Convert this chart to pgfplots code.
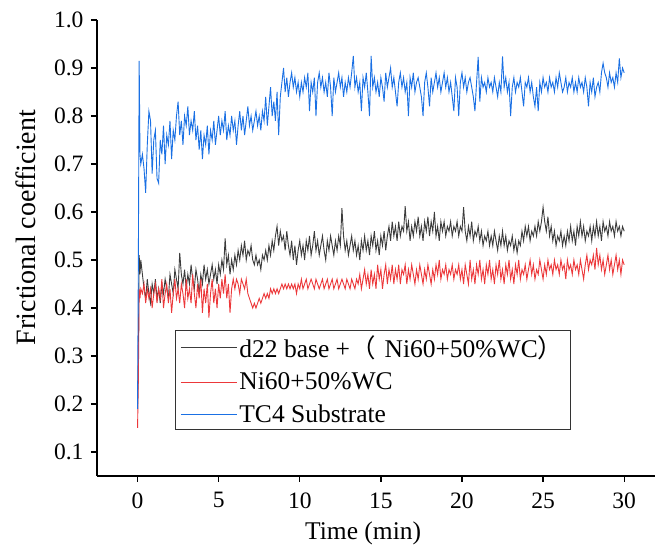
\documentclass[border=0pt]{standalone}
\usepackage{pgfplots}
\pgfplotsset{compat=1.18}
\usepackage{pgfplotstable}
\usepackage{fontspec}
\setmainfont{Liberation Serif}
\newfontfamily\cjk{Noto Sans CJK SC}
\definecolor{cblk}{RGB}{60,60,60}
\definecolor{cred}{RGB}{236,56,58}
\definecolor{cblu}{RGB}{26,112,228}

\pgfplotstableread{
t b r u
0.00 0.20 0.15 0.19
0.05 0.30 0.25 0.50
0.10 0.51 0.44 0.915
0.15 0.47 0.42 0.72
0.20 0.50 0.44 0.70
0.3 0.47 0.43 0.72
0.4 0.44 0.45 0.69
0.5 0.42 0.41 0.64
0.6 0.46 0.44 0.74
0.7 0.43 0.42 0.81
0.8 0.41 0.44 0.79
0.9 0.45 0.40 0.68
1.0 0.43 0.43 0.75
1.1 0.46 0.45 0.77
1.2 0.42 0.41 0.67
1.3 0.44 0.44 0.66
1.4 0.41 0.42 0.75
1.5 0.45 0.46 0.72
1.6 0.43 0.40 0.78
1.7 0.46 0.43 0.70
1.8 0.44 0.45 0.76
1.9 0.42 0.41 0.74
2.0 0.47 0.44 0.79
2.1 0.45 0.39 0.71
2.2 0.43 0.43 0.77
2.3 0.48 0.46 0.75
2.4 0.46 0.42 0.80
2.5 0.44 0.44 0.83
2.6 0.515 0.41 0.76
2.7 0.47 0.45 0.79
2.8 0.45 0.43 0.74
2.9 0.48 0.40 0.80
3.0 0.44 0.46 0.78
3.1 0.47 0.42 0.82
3.2 0.45 0.44 0.76
3.3 0.49 0.41 0.79
3.4 0.46 0.47 0.77
3.5 0.44 0.43 0.81
3.6 0.48 0.40 0.75
3.7 0.46 0.45 0.78
3.8 0.43 0.42 0.73
3.9 0.47 0.46 0.77
4.0 0.45 0.39 0.71
4.1 0.49 0.44 0.76
4.2 0.46 0.41 0.74
4.3 0.48 0.45 0.78
4.4 0.45 0.38 0.72
4.5 0.47 0.43 0.77
4.6 0.49 0.46 0.75
4.7 0.46 0.41 0.79
4.8 0.48 0.44 0.74
4.9 0.45 0.40 0.77
5.0 0.49 0.45 0.80
5.1 0.47 0.42 0.76
5.2 0.50 0.46 0.79
5.3 0.48 0.43 0.77
5.4 0.545 0.47 0.81
5.5 0.49 0.42 0.75
5.6 0.51 0.45 0.78
5.7 0.47 0.39 0.76
5.8 0.50 0.44 0.80
5.9 0.48 0.46 0.77
6.0 0.51 0.44 0.79
6.1 0.49 0.46 0.74
6.2 0.52 0.45 0.78
6.3 0.50 0.43 0.81
6.4 0.53 0.46 0.77
6.5 0.51 0.45 0.80
6.6 0.54 0.44 0.76
6.7 0.50 0.46 0.79
6.8 0.52 0.43 0.82
6.9 0.51 0.42 0.78
7.0 0.53 0.41 0.80
7.1 0.50 0.40 0.77
7.2 0.49 0.41 0.79
7.3 0.51 0.40 0.81
7.4 0.49 0.41 0.78
7.5 0.50 0.42 0.80
7.6 0.48 0.41 0.77
7.7 0.51 0.42 0.81
7.8 0.50 0.43 0.79
7.9 0.52 0.42 0.84
8.0 0.50 0.43 0.78
8.1 0.53 0.42 0.82
8.2 0.51 0.44 0.86
8.3 0.54 0.43 0.80
8.4 0.52 0.44 0.83
8.5 0.55 0.43 0.79
8.6 0.57 0.44 0.85
8.7 0.53 0.43 0.76
8.8 0.56 0.44 0.84
8.9 0.54 0.45 0.87
9.0 0.55 0.44 0.90
9.1 0.52 0.45 0.85
9.2 0.56 0.44 0.88
9.3 0.53 0.45 0.84
9.4 0.51 0.44 0.87
9.5 0.54 0.45 0.89
9.6 0.50 0.44 0.86
9.7 0.53 0.45 0.88
9.8 0.49 0.43 0.85
9.9 0.52 0.45 0.87
10.0 0.54 0.44 0.84
10.1 0.51 0.46 0.87
10.2 0.53 0.44 0.85
10.3 0.50 0.45 0.88
10.4 0.54 0.46 0.86
10.5 0.52 0.44 0.89
10.6 0.55 0.45 0.81
10.7 0.51 0.46 0.87
10.8 0.53 0.45 0.85
10.9 0.56 0.44 0.88
11.0 0.52 0.46 0.80
11.1 0.54 0.45 0.87
11.2 0.51 0.44 0.89
11.3 0.53 0.45 0.86
11.4 0.55 0.46 0.88
11.5 0.52 0.44 0.85
11.6 0.50 0.45 0.87
11.7 0.54 0.46 0.84
11.8 0.52 0.44 0.89
11.9 0.55 0.45 0.86
12.0 0.53 0.46 0.80
12.1 0.51 0.44 0.88
12.2 0.54 0.45 0.85
12.3 0.52 0.46 0.87
12.4 0.55 0.44 0.89
12.5 0.53 0.45 0.86
12.6 0.608 0.46 0.88
12.7 0.55 0.45 0.84
12.8 0.52 0.44 0.87
12.9 0.54 0.46 0.85
13.0 0.51 0.45 0.88
13.1 0.53 0.44 0.86
13.2 0.55 0.46 0.89
13.3 0.52 0.45 0.925
13.4 0.54 0.44 0.86
13.5 0.51 0.46 0.88
13.6 0.53 0.45 0.85
13.7 0.50 0.47 0.87
13.8 0.54 0.44 0.81
13.9 0.52 0.46 0.88
14.0 0.55 0.48 0.86
14.1 0.52 0.45 0.89
14.2 0.54 0.47 0.85
14.3 0.51 0.44 0.80
14.4 0.55 0.48 0.925
14.5 0.53 0.45 0.86
14.6 0.56 0.47 0.88
14.7 0.52 0.44 0.85
14.8 0.54 0.49 0.87
14.9 0.51 0.46 0.84
15.0 0.55 0.48 0.88
15.1 0.53 0.44 0.86
15.2 0.56 0.47 0.83
15.3 0.52 0.49 0.89
15.4 0.55 0.45 0.86
15.5 0.57 0.48 0.88
15.6 0.54 0.46 0.90
15.7 0.58 0.49 0.86
15.8 0.55 0.45 0.88
15.9 0.57 0.48 0.85
16.0 0.54 0.46 0.82
16.1 0.58 0.49 0.87
16.2 0.55 0.45 0.89
16.3 0.57 0.48 0.86
16.4 0.56 0.47 0.88
16.5 0.612 0.49 0.85
16.6 0.56 0.45 0.87
16.7 0.58 0.48 0.80
16.8 0.54 0.46 0.88
16.9 0.57 0.49 0.86
17.0 0.55 0.47 0.89
17.1 0.58 0.45 0.85
17.2 0.56 0.48 0.87
17.3 0.59 0.46 0.88
17.4 0.55 0.49 0.86
17.5 0.57 0.47 0.84
17.6 0.54 0.45 0.80
17.7 0.58 0.48 0.87
17.8 0.56 0.46 0.89
17.9 0.59 0.49 0.86
18.0 0.55 0.47 0.82
18.1 0.58 0.45 0.88
18.2 0.56 0.48 0.85
18.3 0.60 0.46 0.87
18.4 0.55 0.49 0.89
18.5 0.57 0.47 0.86
18.6 0.54 0.50 0.88
18.7 0.58 0.46 0.85
18.8 0.56 0.48 0.87
18.9 0.58 0.47 0.89
19.0 0.55 0.49 0.86
19.1 0.57 0.46 0.88
19.2 0.56 0.48 0.85
19.3 0.58 0.47 0.87
19.4 0.55 0.49 0.84
19.5 0.57 0.46 0.81
19.6 0.56 0.48 0.88
19.7 0.58 0.47 0.86
19.8 0.55 0.49 0.80
19.9 0.57 0.46 0.87
20.0 0.56 0.48 0.89
20.1 0.61 0.45 0.86
20.2 0.56 0.49 0.88
20.3 0.54 0.47 0.85
20.4 0.57 0.45 0.87
20.5 0.55 0.50 0.88
20.6 0.58 0.46 0.86
20.7 0.54 0.48 0.84
20.8 0.56 0.45 0.81
20.9 0.55 0.49 0.87
21.0 0.57 0.47 0.923
21.1 0.54 0.50 0.83
21.2 0.56 0.46 0.88
21.3 0.53 0.48 0.86
21.4 0.55 0.45 0.87
21.5 0.54 0.49 0.85
21.6 0.56 0.47 0.88
21.7 0.53 0.50 0.86
21.8 0.55 0.46 0.87
21.9 0.53 0.48 0.85
22.0 0.56 0.45 0.88
22.1 0.54 0.49 0.86
22.2 0.52 0.47 0.84
22.3 0.55 0.50 0.87
22.4 0.53 0.46 0.85
22.5 0.56 0.48 0.924
22.6 0.53 0.45 0.86
22.7 0.55 0.49 0.88
22.8 0.52 0.47 0.85
22.9 0.54 0.50 0.87
23.0 0.53 0.46 0.80
23.1 0.55 0.48 0.86
23.2 0.52 0.45 0.88
23.3 0.54 0.49 0.85
23.4 0.515 0.47 0.87
23.5 0.54 0.50 0.86
23.6 0.53 0.46 0.88
23.7 0.56 0.48 0.85
23.8 0.54 0.47 0.82
23.9 0.57 0.49 0.87
24.0 0.55 0.46 0.86
24.1 0.57 0.48 0.88
24.2 0.54 0.50 0.85
24.3 0.56 0.47 0.87
24.4 0.55 0.49 0.84
24.5 0.57 0.46 0.82
24.6 0.55 0.48 0.86
24.7 0.58 0.47 0.81
24.8 0.56 0.50 0.87
24.9 0.58 0.48 0.85
25.0 0.61 0.46 0.88
25.1 0.58 0.49 0.86
25.2 0.56 0.47 0.87
25.3 0.59 0.50 0.85
25.4 0.55 0.48 0.88
25.5 0.57 0.49 0.86
25.6 0.54 0.47 0.87
25.7 0.56 0.50 0.85
25.8 0.53 0.48 0.88
25.9 0.55 0.49 0.86
26.0 0.54 0.47 0.89
26.1 0.56 0.50 0.87
26.2 0.53 0.48 0.85
26.3 0.55 0.49 0.86
26.4 0.53 0.46 0.88
26.5 0.56 0.50 0.85
26.6 0.54 0.48 0.87
26.7 0.57 0.49 0.86
26.8 0.54 0.47 0.88
26.9 0.56 0.50 0.85
27.0 0.53 0.48 0.87
27.1 0.57 0.49 0.85
27.2 0.55 0.47 0.88
27.3 0.58 0.50 0.86
27.4 0.55 0.48 0.87
27.5 0.57 0.46 0.85
27.6 0.54 0.49 0.88
27.7 0.56 0.51 0.86
27.8 0.55 0.48 0.82
27.9 0.57 0.50 0.87
28.0 0.54 0.49 0.85
28.1 0.57 0.51 0.88
28.2 0.55 0.48 0.84
28.3 0.58 0.525 0.86
28.4 0.55 0.49 0.87
28.5 0.57 0.51 0.85
28.6 0.54 0.48 0.89
28.7 0.58 0.50 0.91
28.8 0.56 0.47 0.89
28.9 0.57 0.49 0.88
29.0 0.55 0.51 0.86
29.1 0.58 0.48 0.89
29.2 0.56 0.50 0.87
29.3 0.57 0.47 0.88
29.4 0.55 0.49 0.86
29.5 0.58 0.51 0.89
29.6 0.56 0.48 0.87
29.7 0.57 0.50 0.92
29.8 0.55 0.47 0.88
29.9 0.57 0.50 0.90
30.0 0.56 0.49 0.89
}\data

\begin{document}
\begin{tikzpicture}
\begin{axis}[
  name=ax, at={(0,0)}, anchor=south west,
  scale only axis, width=558pt, height=456pt,
  xmin=-2.5, xmax=31.9, ymin=0.05, ymax=1.0,
  axis lines=left, axis line style={-, line width=1.3pt, black},
  xtick={0,5,10,15,20,25,30},
  ytick={0.1,0.2,0.3,0.4,0.5,0.6,0.7,0.8,0.9,1.0},
  yticklabel style={xshift=-4pt, /pgf/number format/.cd, fixed, fixed zerofill, precision=1},
  xticklabel style={yshift=-7pt},
  /pgf/number format/assume math mode=true,
  tick align=outside, major tick length=6pt,
  tick style={line width=1.3pt, black},
  ticklabel style={font=\fontsize{23.5}{26}\selectfont},
  xlabel={Time (min)}, ylabel={Frictional coefficient},
  xlabel style={font=\fontsize{25.5}{28}\selectfont, at={(axis description cs:0.477,-0.125)}, anchor=center},
  ylabel style={font=\fontsize{28}{30}\selectfont, at={(axis description cs:-0.128,0.545)}, anchor=center},
  legend style={at={(axis description cs:0.14,0.32)}, anchor=north west,
    draw=black!80, line width=0.8pt, font=\fontsize{25.5}{29}\selectfont,
    inner xsep=5pt, inner ysep=3pt, row sep=10pt, cells={anchor=west}},
  legend image code/.code={\draw[#1,line width=0.9pt] (0pt,0pt) -- (56pt,0pt);},
]
\addplot[cblk, line width=0.9pt] table[x=t, y=b] {\data};
\addlegendentry{d22 base +{\cjk （}\hspace{9pt}Ni60+50\%WC{\cjk ）}}
\addplot[cred, line width=0.9pt] table[x=t, y=r] {\data};
\addlegendentry{Ni60+50\%WC}
\addplot[cblu, line width=0.9pt] table[x=t, y=u] {\data};
\addlegendentry{TC4 Substrate}
\end{axis}
\pgfresetboundingbox
\path ([xshift=-97pt,yshift=-74pt]ax.south west) rectangle ([yshift=20pt]ax.north east);
\end{tikzpicture}
\end{document}
